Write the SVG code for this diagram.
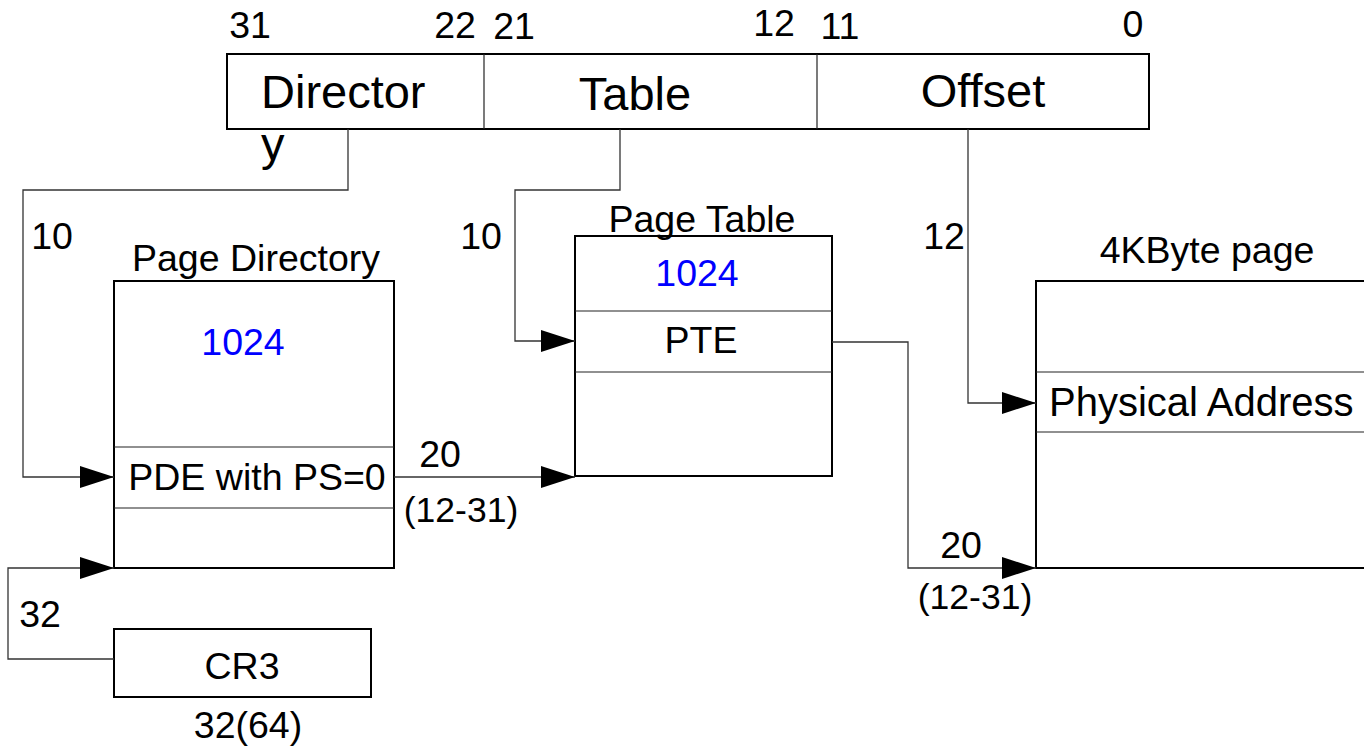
<svg xmlns="http://www.w3.org/2000/svg" width="1364" height="749" viewBox="0 0 1364 749">
  <style>
    text { font-family: "Liberation Sans", Arial, sans-serif; fill: #000; }
    .big { font-size: 47px; }
    .lbl { font-size: 37.5px; }
    .sm { font-size: 35.5px; }
    .wide { font-size: 40px; }
    .mid { text-anchor: middle; }
    .blue { fill: #0000ff; }
    .box { fill: #fff; stroke: #000; stroke-width: 2; }
    .row { stroke: #222; stroke-width: 1.2; fill: none; }
    .wire { fill: none; stroke: #333; stroke-width: 1.3; }
  </style>
  <defs>
    <marker id="arrow" markerUnits="userSpaceOnUse" markerWidth="34" markerHeight="22" refX="34" refY="11" orient="auto">
      <path d="M0,0 L34,11 L0,22 z" fill="#000"/>
    </marker>
  </defs>

  <rect width="1364" height="749" fill="#fff"/>

  <!-- Linear address fields -->
  <g id="linear-address">
    <rect class="box" x="227" y="54" width="922" height="75"/>
    <line class="row" x1="484" y1="54" x2="484" y2="129"/>
    <line class="row" x1="817" y1="54" x2="817" y2="129"/>
    <text class="lbl mid" x="250" y="38">31</text>
    <text class="lbl mid" x="455" y="38">22</text>
    <text class="lbl mid" x="514" y="39">21</text>
    <text class="lbl mid" x="774" y="36">12</text>
    <text class="lbl mid" x="840" y="39">11</text>
    <text class="lbl mid" x="1133" y="37">0</text>
    <text class="big" x="261" y="108">Director<tspan x="261" y="160">y</tspan></text>
    <text class="big mid" x="635" y="110">Table</text>
    <text class="big mid" x="983" y="107">Offset</text>
  </g>

  <!-- Page directory -->
  <g id="page-directory">
    <text class="lbl mid" x="256" y="271">Page Directory</text>
    <rect class="box" x="114" y="281" width="280" height="287"/>
    <line class="row" x1="114" y1="447" x2="394" y2="447"/>
    <line class="row" x1="114" y1="508" x2="394" y2="508"/>
    <text class="lbl mid blue" x="243" y="355">1024</text>
    <text class="lbl mid" x="257" y="490">PDE with PS=0</text>
  </g>

  <!-- Page table -->
  <g id="page-table">
    <rect class="box" x="575" y="236" width="257" height="240"/>
    <text class="lbl mid" x="702" y="232">Page Table</text>
    <line class="row" x1="575" y1="311" x2="832" y2="311"/>
    <line class="row" x1="575" y1="372" x2="832" y2="372"/>
    <text class="lbl mid blue" x="697" y="286">1024</text>
    <text class="lbl mid" x="701" y="353">PTE</text>
  </g>

  <!-- 4 KByte page -->
  <g id="page-4k">
    <text class="lbl mid" x="1207" y="263">4KByte page</text>
    <rect class="box" x="1036" y="281" width="340" height="287"/>
    <line class="row" x1="1036" y1="372" x2="1364" y2="372"/>
    <line class="row" x1="1036" y1="432" x2="1364" y2="432"/>
    <text class="wide" x="1049" y="416">Physical Address</text>
  </g>

  <!-- CR3 register -->
  <g id="cr3">
    <rect class="box" x="114" y="629" width="257" height="68"/>
    <text class="lbl mid" x="242" y="679">CR3</text>
    <text class="lbl mid" x="248" y="738">32(64)</text>
  </g>

  <!-- Connectors -->
  <g id="connectors">
    <path class="wire" d="M348,129 V190 H23 V477 H114" marker-end="url(#arrow)"/>
    <path class="wire" d="M114,659 H8 V568 H114" marker-end="url(#arrow)"/>
    <path class="wire" d="M620,129 V190 H515 V341 H575" marker-end="url(#arrow)"/>
    <path class="wire" d="M394,477 H575" marker-end="url(#arrow)"/>
    <path class="wire" d="M832,342 H908 V568 H1036" marker-end="url(#arrow)"/>
    <path class="wire" d="M968,129 V403 H1036" marker-end="url(#arrow)"/>
    <text class="lbl mid" x="52" y="249">10</text>
    <text class="lbl mid" x="481" y="249">10</text>
    <text class="lbl mid" x="944" y="249">12</text>
    <text class="lbl mid" x="440" y="467">20</text>
    <text class="sm mid" x="461" y="522">(12-31)</text>
    <text class="lbl mid" x="40" y="627">32</text>
    <text class="lbl mid" x="961" y="558">20</text>
    <text class="sm mid" x="975" y="609">(12-31)</text>
  </g>
</svg>
